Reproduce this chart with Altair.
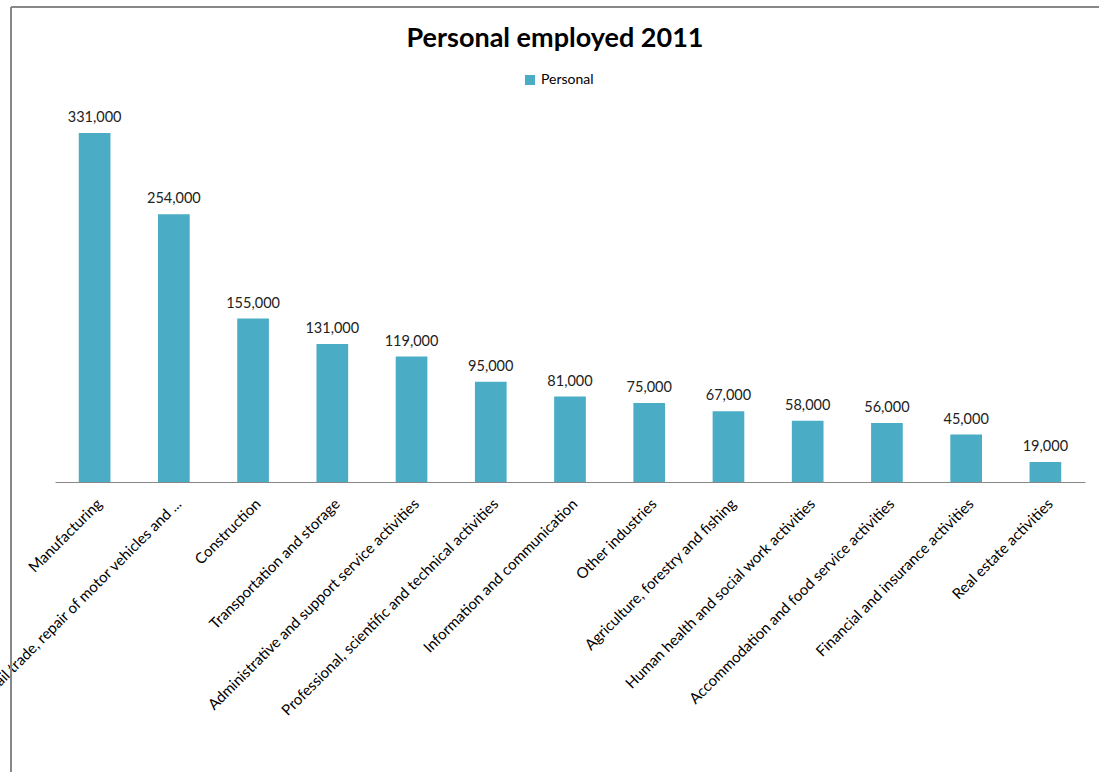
import altair as alt
import pandas as pd

categories = [
    "Manufacturing",
    "Wholesale and retail trade, repair of motor vehicles and ...",
    "Construction",
    "Transportation and storage",
    "Administrative and support service activities",
    "Professional, scientific and technical activities",
    "Information and communication",
    "Other industries",
    "Agriculture, forestry and fishing",
    "Human health and social work activities",
    "Accommodation and food service activities",
    "Financial and insurance activities",
    "Real estate activities",
]
values = [331000, 254000, 155000, 131000, 119000, 95000, 81000, 75000, 67000, 58000, 56000, 45000, 19000]
series = ["Personal"] * len(categories)
title_text = "Personal employed 2011"

df = pd.DataFrame({"category": categories, "value": values, "series": series})

FONT = "Lato"
BAR = "#4BACC6"

x = alt.X(
    "category:N",
    sort=categories,
    scale=alt.Scale(paddingInner=0.6, paddingOuter=0.3),
    axis=alt.Axis(
        title=None,
        labelAngle=-45,
        labelFont=FONT,
        labelFontSize=15,
        labelColor="#000000",
        labelLimit=1000,
        labelPadding=14,
        ticks=False,
        domainColor="#888888",
        labelOverlap=False,
    ),
)
y = alt.Y("value:Q", scale=alt.Scale(domain=[0, 350000]), axis=None)

bars = alt.Chart(df).mark_bar(color=BAR).encode(
    x=x,
    y=y,
    color=alt.Color(
        "series:N",
        scale=alt.Scale(range=[BAR]),
        legend=alt.Legend(
            title=None,
            orient="none",
            legendX=468,
            legendY=-40,
            symbolType="square",
            symbolSize=100,
            labelFont=FONT,
            labelFontSize=14,
            labelColor="#000000",
            symbolStrokeWidth=0,
        ),
    ),
)

labels = alt.Chart(df).mark_text(dy=-15, font=FONT, fontSize=14.5, color="#222222").encode(
    x=alt.X("category:N", sort=categories),
    y=y,
    text=alt.Text("value:Q", format=","),
)

title = alt.Chart(pd.DataFrame({"t": [title_text]})).mark_text(
    font=FONT, fontSize=27, fontWeight="bold", color="#000000",
    align="center", baseline="alphabetic",
).encode(text="t:N", x=alt.value(500), y=alt.value(-66))

frame = alt.Chart(df).mark_rule(color="#888888", strokeWidth=1.5).encode(
    x=alt.value(-44), x2=alt.value(1100), y=alt.value(-106)
)
frame2 = alt.Chart(df).mark_rule(color="#888888", strokeWidth=1.5).encode(
    x=alt.value(-44), y=alt.value(-106), y2=alt.value(700)
)

chart = (
    alt.layer(bars, labels, title, frame, frame2)
    .properties(
        width=1030,
        height=369,
        padding={"left": 55, "top": 113, "right": 14, "bottom": 290},
        autosize=alt.AutoSizeParams(type="none"),
        background="white",
    )
    .configure_view(strokeWidth=0, stroke=None)
)

chart.save("out.html", embed_options={"renderer": "svg", "actions": False})
